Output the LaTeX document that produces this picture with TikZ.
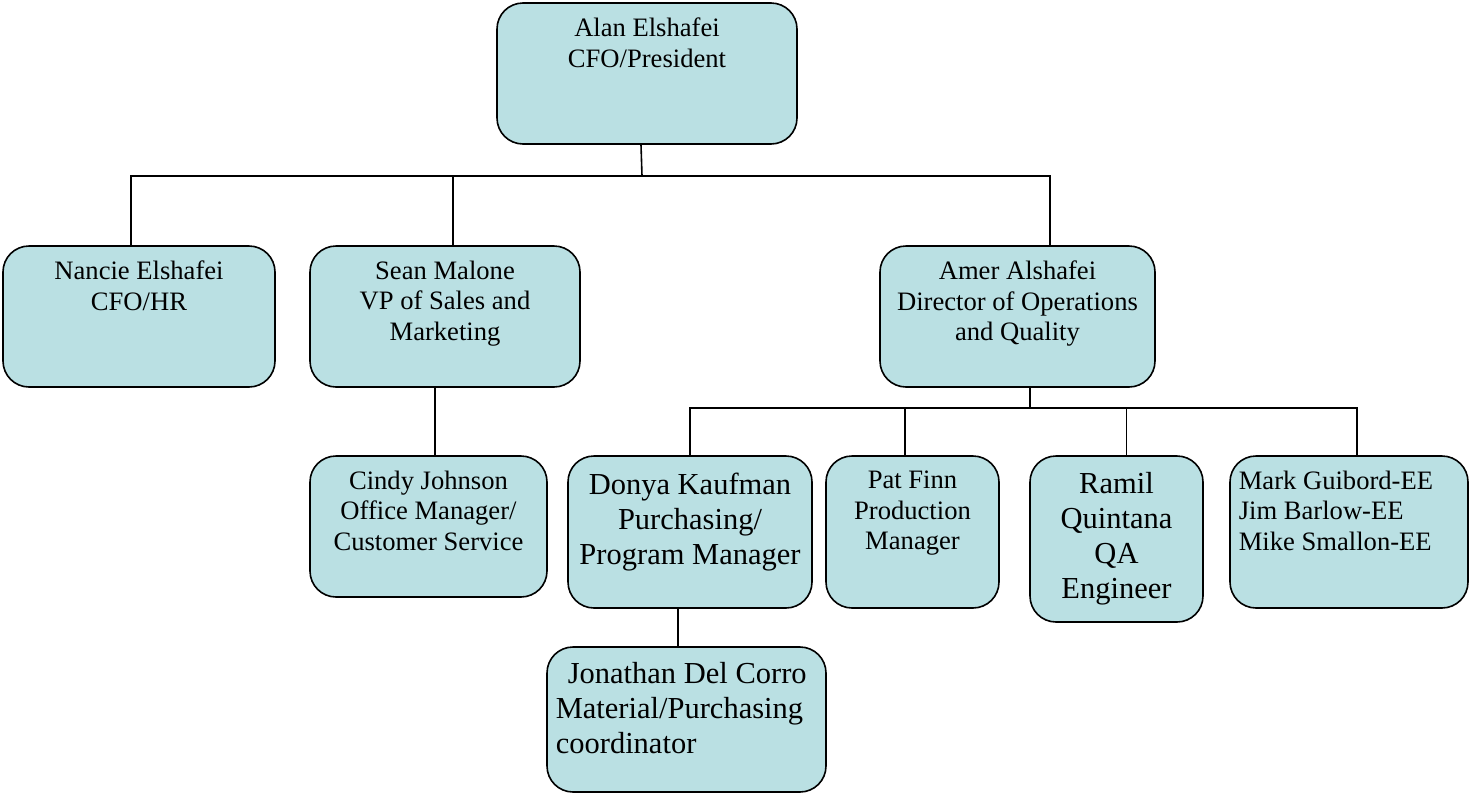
\documentclass[tikz,border=0pt]{standalone}
\usepackage{fontspec}
\setmainfont{Liberation Serif}
\usepackage{tikz}
\usetikzlibrary{calc,positioning}
\tikzset{
  org_box/.style = {rectangle, draw=black, fill=my_blue, line width=1.6pt, rounded corners=26pt,
  inner sep=0pt},
  org_text/.style = {align=center, inner sep=0pt, font=\fontsize{26.6}{30.6}\selectfont},
  big_text/.style = {org_text, font=\fontsize{30.5}{35}\selectfont}
}
\definecolor{my_blue}{RGB}{186, 224, 227}

\begin{document}
\begin{tikzpicture}[x=1pt, y=-1pt, line width=1.6pt,
        wire/.style={draw=black, line width=1.6pt}]
        \useasboundingbox (0,0) rectangle (1470,793);
        % boxes
        \node [org_box, minimum width=300pt, minimum height=141pt] (alan) at (647,73.5) {};
        \node [org_box, minimum width=272pt, minimum height=141pt] (nancie) at (139,316.5) {};
        \node [org_box, minimum width=270pt, minimum height=141pt] (sean) at (445,316.5) {};
        \node [org_box, minimum width=275pt, minimum height=141pt] (amer) at (1017.5,316.5) {};
        \node [org_box, minimum width=237pt, minimum height=141pt] (cindy) at (428.5,526.5) {};
        \node [org_box, minimum width=244pt, minimum height=152pt] (donya) at (690,532) {};
        \node [org_box, minimum width=173pt, minimum height=152pt] (pat) at (912.5,532) {};
        \node [org_box, minimum width=173pt, minimum height=166pt] (ramil) at (1116.5,539) {};
        \node [org_box, minimum width=238pt, minimum height=152pt] (mark) at (1349,532) {};
        \node [org_box, minimum width=279pt, minimum height=145pt] (jonathan) at (686.5,719.5) {};
        % texts
        \node [org_text, anchor=north] (alan_t) at (647,17) {Alan Elshafei\\CFO/President};
        \node [org_text, anchor=north] (nancie_t) at (139,260) {Nancie Elshafei\\CFO/HR};
        \node [org_text, anchor=north] (sean_t) at (445,260) {Sean Malone\\VP of Sales and\\Marketing};
        \node [org_text, anchor=north] (amer_t) at (1017.5,260) {Amer Alshafei\\Director of Operations\\and Quality};
        \node [org_text, anchor=north] (cindy_t) at (428.5,470) {Cindy Johnson\\Office Manager/\\Customer Service};
        \node [big_text, anchor=north] (donya_t) at (690,472) {Donya Kaufman\\Purchasing/\\Program Manager};
        \node [org_text, anchor=north] (pat_t) at (912.5,470) {Pat Finn\\Production\\Manager};
        \node [big_text, anchor=north] (ramil_t) at (1116.5,472) {Ramil\\Quintana\\QA\\Engineer};
        \node [org_text, align=left, anchor=north west] (mark_t) at (1238,470) {Mark Guibord-EE\\Jim Barlow-EE\\Mike Smallon-EE};
        \node [big_text, align=left, anchor=north west] (jonathan_t) at (555,662) {\hspace*{12pt}Jonathan Del Corro\\Material/Purchasing\\coordinator};
        % connectors
        \coordinate (bus_top) at (642,176);
        \coordinate (bus_ops) at (1030,408);
        \draw [wire] ([xshift=-6pt]alan.south) -- (bus_top);
        \draw [wire] ([xshift=-8pt]nancie.north) |- (bus_top) -| ([xshift=32.5pt]amer.north);
        \draw [wire] ([xshift=8pt]sean.north) -- ([xshift=8pt]sean.north |- bus_top);
        \draw [wire] ([xshift=-10pt]sean.south) -- ([xshift=6.5pt]cindy.north);
        \draw [wire] ([xshift=12.5pt]amer.south) -- (bus_ops);
        \draw [wire] (donya.north) |- (bus_ops) -| ([xshift=8pt]mark.north);
        \draw [wire] ([xshift=-7.5pt]pat.north) -- ([xshift=-7.5pt]pat.north |- bus_ops);
        \draw [wire] ([xshift=10pt]ramil.north) -- ([xshift=10pt]ramil.north |- bus_ops);
        \draw [wire] ([xshift=-12pt]donya.south) -- ([xshift=-8.5pt]jonathan.north);
\end{tikzpicture}
\end{document}
